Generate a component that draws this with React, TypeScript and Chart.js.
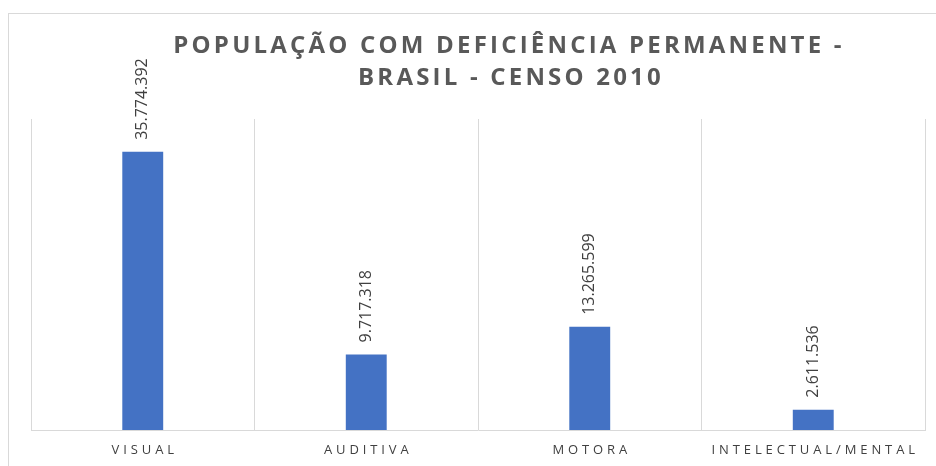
import React, { useEffect, useRef } from "react";
import { Chart, registerables } from "chart.js";

Chart.register(...registerables);

const categories = ["VISUAL", "AUDITIVA", "MOTORA", "INTELECTUAL/MENTAL"];
const values = [35774392, 9717318, 13265599, 2611536];
const valueLabels = ["35.774.392", "9.717.318", "13.265.599", "2.611.536"];
const titleLines = ["POPULAÇÃO COM DEFICIÊNCIA PERMANENTE -", "BRASIL - CENSO 2010"];

const FONT = '"Open Sans", "Liberation Sans", sans-serif';

const overlay = {
  id: "overlay",
  afterDraw(chart: any) {
    const ctx = chart.ctx as CanvasRenderingContext2D;
    const xs = chart.scales.x;
    const ys = chart.scales.y;
    ctx.save();
    // outer border
    ctx.strokeStyle = "#d9d9d9";
    ctx.lineWidth = 1;
    ctx.strokeRect(8.5, 13.5, 2000, 2000);
    // title
    ctx.fillStyle = "#595959";
    ctx.font = `bold 24px ${FONT}`;
    (ctx as any).letterSpacing = "3.2px";
    ctx.textAlign = "center";
    ctx.textBaseline = "middle";
    ctx.fillText(titleLines[0], 509, 46);
    ctx.fillText(titleLines[1], 511, 78);
    // x labels
    ctx.fillStyle = "#404040";
    ctx.font = `13px ${FONT}`;
    (ctx as any).letterSpacing = "3.9px";
    categories.forEach((c, i) => {
      const x = xs.getPixelForValue(i);
      ctx.fillText(c, x + 2, 450);
    });
    // data labels
    (ctx as any).letterSpacing = "0px";
    ctx.font = `16px ${FONT}`;
    ctx.textAlign = "left";
    ctx.textBaseline = "middle";
    const meta = chart.getDatasetMeta(0);
    values.forEach((v, i) => {
      const bar = meta.data[i];
      const x = bar.x;
      const y = ys.getPixelForValue(v) - 12;
      ctx.save();
      ctx.translate(x, y);
      ctx.rotate(-Math.PI / 2);
      ctx.fillText(valueLabels[i], 0, 0);
      ctx.restore();
    });
    ctx.restore();
  },
};

export default function App() {
  const ref = useRef<HTMLCanvasElement>(null);
  useEffect(() => {
    document.body.style.margin = "0";
    const chart = new Chart(ref.current!, {
      type: "bar",
      data: {
        labels: categories,
        datasets: [
          {
            data: values,
            backgroundColor: "#4472c4",
            borderWidth: 0,
            categoryPercentage: 1,
            barPercentage: 0.183,
          },
        ],
      },
      options: {
        animation: false,
        responsive: false,
        maintainAspectRatio: false,
        layout: { padding: { left: 31, right: 11, top: 119, bottom: 36 } },
        plugins: { legend: { display: false }, tooltip: { enabled: false }, title: { display: false } },
        scales: {
          x: {
            offset: true,
            ticks: { display: false },
            grid: { display: true, color: "#d9d9d9", drawTicks: false, offset: true },
            border: { display: true, color: "#d9d9d9" },
          },
          y: {
            display: false,
            min: 0,
            max: 40000000,
          },
        },
      },
      plugins: [overlay],
    });
    return () => chart.destroy();
  }, []);
  return (
    <div style={{ width: 936, height: 466, background: "#fff" }}>
      <canvas ref={ref} width={936} height={466} style={{ display: "block" }} />
    </div>
  );
}
